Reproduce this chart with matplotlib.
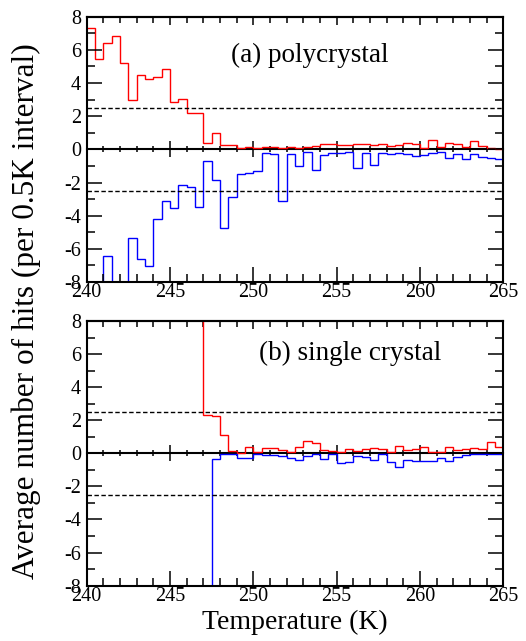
import numpy as np
import matplotlib
matplotlib.use('Agg')
import matplotlib.pyplot as plt
from matplotlib.ticker import MultipleLocator, NullFormatter

plt.rcParams['font.family'] = 'Liberation Serif'
plt.rcParams['axes.unicode_minus'] = False

# bin width 0.5 K, bins start at 240 K; +/-12 means off the plotted range
bin_width = 0.5
poly_t0 = 240.0
poly_red = [7.34, 5.45, 6.39, 6.85, 5.19, 2.95, 4.48, 4.24, 4.34, 4.84,
            2.83, 3.04, 2.17, 2.17, 0.38, 0.98, 0.28, 0.28, 0.10, 0.16,
            0.10, 0.16, 0.12, 0.08, 0.16, 0.06, 0.14, 0.20, 0.34, 0.34,
            0.24, 0.24, 0.30, 0.34, 0.26, 0.30, 0.18, 0.26, 0.38, 0.34,
            0.10, 0.58, 0.16, 0.38, 0.30, 0.14, 0.52, 0.18, 0.06, 0.0]
poly_blue = [-12, -12, -6.46, -12, -12, -5.32, -6.60, -7.02, -4.18, -3.12,
             -3.52, -2.12, -2.24, -3.48, -0.68, -1.82, -4.72, -2.90, -1.46, -1.40,
             -1.28, -0.20, -0.30, -3.12, -0.28, -1.00, -0.18, -1.25, -0.34, -0.20,
             -0.20, -0.14, -1.15, -0.20, -0.95, -0.24, -0.28, -0.24, -0.30, -0.38,
             -0.34, -0.24, -0.18, -0.50, -0.30, -0.60, -0.30, -0.46, -0.50, -0.56]

single_red_t0 = 246.5
single_red = [12, 2.32, 2.26, 1.11, 0.16, 0.04, 0.38, 0.08, 0.34, 0.34,
              0.20, 0.08, 0.40, 0.75, 0.65, 0.18, 0.14, 0.08, 0.28, 0.16,
              0.28, 0.34, 0.24, 0.10, 0.44, 0.20, 0.24, 0.38, 0.10, 0.10,
              0.40, 0.20, 0.28, 0.34, 0.26, 0.66, 0.36]
single_blue_t0 = 247.0
single_blue = [-12, -0.32, -0.06, -0.04, -0.26, -0.26, -0.06, -0.12, -0.12, -0.16,
               -0.26, -0.40, -0.16, -0.04, -0.32, -0.06, -0.56, -0.50, -0.16, -0.20,
               -0.40, -0.06, -0.50, -0.80, -0.40, -0.46, -0.46, -0.46, -0.30, -0.46,
               -0.20, -0.12, -0.06, -0.02, -0.02, -0.06]

threshold = 2.5
labels = ['(a) polycrystal', '(b) single crystal']
label_pos = [(248.66, 5.68), (250.35, 6.06)]


def edges(t0, vals):
    return t0 + bin_width * np.arange(len(vals) + 1)


def panel(ax, red_t0, red, blue_t0, blue, text, pos):
    ax.stairs(red, edges(red_t0, red), baseline=None, color='#ff0000', lw=1.0)
    ax.stairs(blue, edges(blue_t0, blue), baseline=None, color='#0000ff', lw=1.0)
    ax.axhline(threshold, color='black', lw=1.0, dashes=(3.2, 1.8))
    ax.axhline(-threshold, color='black', lw=1.0, dashes=(3.2, 1.8))
    ax.set_xlim(240, 265)
    ax.set_ylim(-8, 8)
    ax.xaxis.set_major_locator(MultipleLocator(5))
    ax.xaxis.set_minor_locator(MultipleLocator(1))
    ax.yaxis.set_major_locator(MultipleLocator(2))
    ax.yaxis.set_minor_locator(MultipleLocator(1))
    ax.tick_params(axis='both', labelsize=14.5, colors='black')
    ax.tick_params(axis='x', which='major', direction='in', length=10.5, width=1.1, pad=1)
    ax.tick_params(axis='x', which='minor', direction='in', length=5.5, width=1.1)
    ax.tick_params(axis='y', which='major', direction='in', length=10.5, width=1.1,
                   right=True, pad=4)
    ax.tick_params(axis='y', which='minor', direction='in', length=5.5, width=1.1,
                   right=True)
    for s in ax.spines.values():
        s.set_linewidth(1.5)

    top = ax.secondary_xaxis('top')
    top.xaxis.set_major_locator(MultipleLocator(5))
    top.xaxis.set_minor_locator(MultipleLocator(1))
    top.xaxis.set_major_formatter(NullFormatter())
    top.tick_params(which='major', direction='in', length=6, width=1.1)
    top.tick_params(which='minor', direction='in', length=4.3, width=1.1)
    top.spines['top'].set_linewidth(1.5)

    # zero line with ticks crossing it
    mid = ax.secondary_xaxis(0.5)
    mid.xaxis.set_major_locator(MultipleLocator(5))
    mid.xaxis.set_minor_locator(MultipleLocator(1))
    mid.xaxis.set_major_formatter(NullFormatter())
    mid.tick_params(which='major', direction='inout', length=11.5, width=1.1)
    mid.tick_params(which='minor', direction='inout', length=5, width=1.1)
    for s in mid.spines.values():
        s.set_linewidth(1.5)

    ax.text(pos[0], pos[1], text, fontsize=19.5, ha='left', va='center')


fig = plt.figure(figsize=(5.26, 6.41), dpi=100)
ax1 = fig.add_axes([0.1648, 0.560, 0.7921, 0.414])
ax2 = fig.add_axes([0.1648, 0.0864, 0.7921, 0.4128])

panel(ax1, poly_t0, poly_red, poly_t0, poly_blue, labels[0], label_pos[0])
panel(ax2, single_red_t0, single_red, single_blue_t0, single_blue, labels[1], label_pos[1])

ax2.set_xlabel('Temperature (K)', fontsize=20, labelpad=3)
fig.text(0.05, 0.515, 'Average number of hits (per 0.5K interval)', fontsize=22.5,
         rotation=90, ha='center', va='center')

plt.savefig('out.png', dpi=100)
